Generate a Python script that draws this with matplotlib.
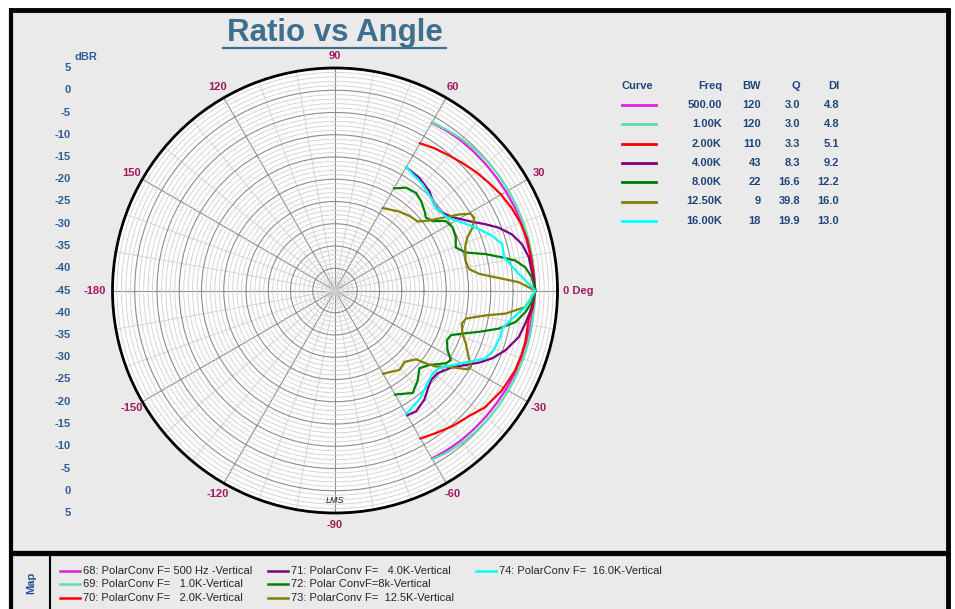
import numpy as np
import matplotlib
matplotlib.use("Agg")
import matplotlib.pyplot as plt
from matplotlib.lines import Line2D
from matplotlib.patches import Rectangle
import matplotlib.transforms as mtransforms

plt.rcParams['font.family'] = ['Liberation Sans', 'DejaVu Sans']

# ---------- DATA (angle in deg, level in dBR) ----------
ang_500 = [60, 55, 50, 45, 40, 35, 30, 25, 20, 15, 10, 5, 0, -5, -10, -15, -20, -25, -30, -35, -40, -45, -50, -55, -60]
db_500 = [-1.5, -1.2, -1.0, -0.9, -0.8, -0.7, -0.6, -0.5, -0.5, -0.5, -0.4, -0.2, 0.0, -0.2, -0.4, -0.5, -0.5, -0.5, -0.6, -0.7, -0.8, -0.9, -1.0, -1.2, -1.4]

ang_1k = [60, 55, 50, 45, 40, 35, 30, 25, 20, 15, 10, 5, 0, -5, -10, -15, -20, -25, -30, -35, -40, -45, -50, -55, -60]
db_1k = [-1.4, -1.0, -0.6, -0.3, -0.1, 0.0, 0.0, 0.0, 0.0, 0.0, -0.1, -0.1, 0.0, -0.1, -0.1, 0.0, 0.0, 0.0, 0.0, 0.0, -0.1, -0.2, -0.4, -0.7, -1.2]

ang_2k = [60, 55, 50, 45, 40, 35, 30, 25, 20, 15, 10, 5, 0, -5, -9, -15, -19, -24, -31, -38, -43, -49, -55, -60]
db_2k = [-6.8, -6.0, -5.3, -4.5, -3.6, -2.8, -1.9, -1.2, -0.6, -0.3, -0.3, -0.2, 0.0, -0.4, -1.0, -0.7, -0.65, -0.7, -1.3, -2.3, -3.7, -4.65, -5.8, -6.6]

ang_4k = [60, 53, 46.5, 41, 37, 32, 27.4, 23.7, 21, 17.6, 13.9, 9.7, 3, 0, -4.8, -9.9, -14.2, -19.3, -23.3, -26.6, -29.7, -33.2, -38.9, -43, -47, -50.7, -56.1, -60]
db_4k = [-13.0, -13.4, -14.2, -15.5, -15.5, -13.9, -11.1, -8.0, -5.6, -3.3, -1.7, -0.8, -0.3, 0.0, -0.6, -1.6, -2.4, -4.4, -6.5, -8.8, -11.2, -13.5, -15.4, -15.5, -14.5, -13.3, -12.3, -12.6]

ang_8k = [60, 55.3, 50.3, 46.1, 41.6, 38.7, 35.4, 32.1, 28.2, 23.7, 19.6, 16.2, 13.6, 11.2, 9.4, 6.9, 3.8, 0, -3, -6.4, -9.9, -13.1, -16, -18.7, -21.1, -23.9, -27.9, -31, -33.3, -38.3, -42.7, -47.2, -52.8, -60]
db_8k = [-18.5, -16.9, -16.5, -17.1, -18.1, -18.8, -18.1, -15.6, -15.0, -15.35, -16.2, -14.4, -10.2, -6.7, -3.9, -1.9, -0.65, 0.0, -0.5, -1.9, -3.8, -7.2, -11.3, -14.8, -17.1, -17.5, -16.4, -14.6, -15.2, -18.0, -19.2, -17.6, -16.1, -18.0]

ang_12k5 = [60, 50.7, 45, 39.8, 36.6, 33.5, 31.5, 29.5, 27.6, 24.6, 21.8, 18.3, 12.8, 9.1, 6.6, 4.7, 2.6, 0, -1, -5, -7.7, -9.4, -12.1, -14.6, -18.7, -22, -26.4, -29.3, -30.8, -33.2, -37, -38.7, -40.3, -45.7, -50.9, -60]
db_12k5 = [-23.6, -22.1, -21.3, -20.8, -18.6, -15.1, -12.3, -9.95, -9.7, -11.0, -13.0, -14.2, -14.9, -14.5, -12.4, -8.8, -3.7, 0.0, -0.2, -2.1, -6.3, -10.7, -14.9, -15.55, -14.8, -13.3, -11.5, -10.0, -10.4, -13.5, -16.6, -18.8, -21.1, -22.6, -22.0, -23.4]

ang_16k = [60, 50.4, 44, 39.3, 32.9, 28, 24.1, 19.2, 15.5, 11.1, 5.1, 1, 0, -5, -9, -12.8, -15.6, -20.6, -24.3, -28, -32.4, -36.7, -40.3, -46.5, -52.3, -60]
db_16k = [-13.0, -14.1, -15.0, -15.7, -14.9, -12.5, -10.4, -7.6, -6.0, -6.3, -3.5, -0.7, 0.0, -2.1, -4.7, -6.5, -6.4, -6.9, -7.9, -10.9, -13.7, -15.8, -16.2, -15.3, -14.0, -13.0]

curve_colors = ['#e020e0', '#5fdcb0', '#ff0000', '#800080', '#008000', '#808000', '#00ffff']
freq_labels = ['500.00', '1.00K', '2.00K', '4.00K', '8.00K', '12.50K', '16.00K']
bw_values = ['120', '120', '110', '43', '22', '9', '18']
q_values = ['3.0', '3.0', '3.3', '8.3', '16.6', '39.8', '19.9']
di_values = ['4.8', '4.8', '5.1', '9.2', '12.2', '16.0', '13.0']
map_labels = ['68: PolarConv F= 500 Hz -Vertical', '69: PolarConv F=   1.0K-Vertical',
              '70: PolarConv F=   2.0K-Vertical', '71: PolarConv F=   4.0K-Vertical',
              '72: Polar ConvF=8k-Vertical', '73: PolarConv F=  12.5K-Vertical',
              '74: PolarConv F=  16.0K-Vertical']
db_ticks = [5, 0, -5, -10, -15, -20, -25, -30, -35, -40, -45]
angle_ticks = [90, 60, 30, -30, -60, -90, -120, -150, 150, 120]

curves = [(ang_500, db_500), (ang_1k, db_1k), (ang_2k, db_2k), (ang_4k, db_4k),
          (ang_8k, db_8k), (ang_12k5, db_12k5), (ang_16k, db_16k)]

# ---------- layout helpers (pixel -> figure fraction) ----------
W, H = 955, 609
def fx(px):
    return px / W
def fy(py):
    return 1 - py / H

bg = '#eaeaea'
title_col = '#3f6f8f'
ang_col = '#a01a5c'
db_col = '#2e5c99'
tab_col = '#20457a'

fig = plt.figure(figsize=(9.55, 6.09), dpi=100, facecolor='white')

# panel background + frame
fig.add_artist(Rectangle((fx(11), fy(609)), fx(948) - fx(11), fy(10) - fy(609),
                         transform=fig.transFigure, facecolor=bg, edgecolor='none', zorder=0))
frame_kw = dict(transform=fig.transFigure, color='black', solid_capstyle='butt', zorder=5)
fig.add_artist(Line2D([fx(9), fx(950)], [fy(9.5), fy(9.5)], lw=3.5, **frame_kw))
fig.add_artist(Line2D([fx(11), fx(11)], [fy(8), fy(609)], lw=3, **frame_kw))
fig.add_artist(Line2D([fx(948), fx(948)], [fy(8), fy(609)], lw=3.5, **frame_kw))
fig.add_artist(Line2D([fx(9), fx(950)], [fy(553), fy(553)], lw=3.8, **frame_kw))
fig.add_artist(Line2D([fx(50), fx(50)], [fy(553), fy(609)], lw=1.5, **frame_kw))

# title with underline
fig.text(fx(335), fy(33), 'Ratio vs Angle', ha='center', va='center', fontsize=22.5,
         fontweight='bold', color=title_col)
fig.add_artist(Line2D([fx(223), fx(446)], [fy(47.5), fy(47.5)], lw=1.6, color=title_col,
                      transform=fig.transFigure))

# ---------- polar plot ----------
cx, cy, rad = 335, 290.5, 222.5
ax = fig.add_axes([fx(cx - rad), fy(cy + rad), 2 * rad / W, 2 * rad / H], projection='polar')
ax.set_facecolor('white')
ax.set_ylim(-45, 5)
ax.set_xticks(np.deg2rad(np.arange(0, 360, 30)))
ax.set_xticks(np.deg2rad(np.arange(0, 360, 10)), minor=True)
ax.set_yticks(np.arange(-45, 6, 5))
ax.set_yticks(np.arange(-45, 6, 1), minor=True)
ax.set_xticklabels([])
ax.set_yticklabels([])
ax.tick_params(which='both', length=0)
ax.grid(which='major', color='#8c8c8c', lw=0.8)
ax.grid(which='minor', color='#d0d0d0', lw=0.6)
ax.spines['polar'].set_color('black')
ax.spines['polar'].set_linewidth(2)

for (a, d), c in zip(curves, curve_colors):
    ax.plot(np.deg2rad(a), d, color=c, lw=1.6, zorder=3)

# angle labels
lab_kw = dict(ha='center', va='center', color=ang_col, fontsize=8, fontweight='bold', clip_on=False)
for a in angle_ticks:
    ax.text(np.deg2rad(a), 7.8, str(a), **lab_kw)
ax.text(0, 6.3, '0 Deg', ha='left', va='center', color=ang_col, fontsize=8,
        fontweight='bold', clip_on=False)
ax.text(np.pi, 6.4, '-180', ha='right', va='center', color=ang_col, fontsize=8,
        fontweight='bold', clip_on=False)

# signature
ax.text(np.deg2rad(-90), 2.2, 'LMS', ha='center', va='center', fontsize=6.5,
        style='italic', color='#222222')

# radial dB labels on the left, mirrored about the centre
trans = mtransforms.blended_transform_factory(fig.transFigure, ax.transAxes)
for v in db_ticks:
    for sgn in (1, -1):
        if v == -45 and sgn == -1:
            continue
        yy = 0.5 + sgn * 0.5 * (v + 45) / 50.0
        fig.text(fx(71), yy, str(v), transform=trans, ha='right', va='center',
                 fontsize=8, fontweight='bold', color=db_col)
fig.text(fx(74), fy(57), 'dBR', ha='left', va='center', fontsize=8,
         fontweight='bold', color=db_col)

# ---------- curve table ----------
hdr_y = 86
tk = dict(fontsize=8, fontweight='bold', color=tab_col, va='center')
fig.text(fx(622), fy(hdr_y), 'Curve', ha='left', **tk)
for xr, t in zip([722, 761, 800, 839], ['Freq', 'BW', 'Q', 'DI']):
    fig.text(fx(xr), fy(hdr_y), t, ha='right', **tk)
for i, c in enumerate(curve_colors):
    y = 105 + i * 19.3
    fig.add_artist(Line2D([fx(622), fx(656)], [fy(y), fy(y)], color=c, lw=2,
                          transform=fig.transFigure))
    for xr, t in zip([722, 761, 800, 839], [freq_labels[i], bw_values[i], q_values[i], di_values[i]]):
        fig.text(fx(xr), fy(y), t, ha='right', **tk)

# ---------- bottom map legend ----------
fig.text(fx(31), fy(583), 'Map', rotation=90, ha='center', va='center', fontsize=8,
         fontweight='bold', color='#1f4f8f')
col_x = [60, 268, 476]
row_y = [570.5, 584, 598]
for i, (c, t) in enumerate(zip(curve_colors, map_labels)):
    col = [0, 0, 0, 1, 1, 1, 2][i]
    row = [0, 1, 2, 0, 1, 2, 0][i]
    x0 = col_x[col]
    y = row_y[row]
    fig.add_artist(Line2D([fx(x0), fx(x0 + 20)], [fy(y), fy(y)], color=c, lw=1.8,
                          transform=fig.transFigure))
    fig.text(fx(x0 + 23), fy(y), t, ha='left', va='center', fontsize=8, color='#262626')

fig.savefig('out.png', dpi=100, facecolor=fig.get_facecolor())
